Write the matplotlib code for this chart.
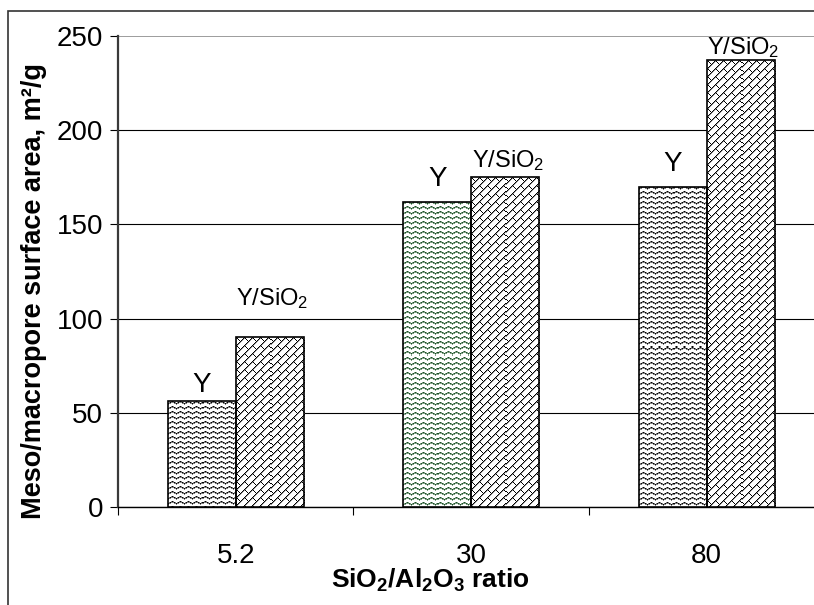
import numpy as np
import matplotlib
matplotlib.use("Agg")
import matplotlib.pyplot as plt
from matplotlib.patches import Rectangle

# Data
categories = ["5.2", "30", "80"]
series_labels = ["Y", "Y/SiO$_2$"]
area_y = [56, 162, 170]
area_y_sio2 = [90, 175, 237]
yticks = [0, 50, 100, 150, 200, 250]

plt.rcParams["font.family"] = ["Liberation Sans", "DejaVu Sans"]
plt.rcParams["mathtext.fontset"] = "custom"
plt.rcParams["mathtext.rm"] = "Liberation Sans"
plt.rcParams["mathtext.it"] = "Liberation Sans:italic"
plt.rcParams["mathtext.bf"] = "Liberation Sans:bold"

W, H = 814, 605
fig = plt.figure(figsize=(W / 100, H / 100), dpi=100)
ax = fig.add_axes([118 / W, 98 / H, 706.5 / W, 471 / H])

x = np.arange(len(categories))
bw = 0.289
ax.set_xlim(-0.5, len(categories) - 0.5)
ax.set_ylim(0, 250)

bars_a = ax.bar(x - bw / 2, area_y, bw, facecolor="none", edgecolor="black",
                linewidth=1.2, zorder=4)
bars_b = ax.bar(x + bw / 2, area_y_sio2, bw, facecolor="none", edgecolor="black",
                linewidth=1.2, zorder=4)


def zigzag(h, w, dark, mid):
    img = np.ones((h, w, 3))
    r = np.arange(h)[:, None]
    c = np.arange(w)[None, :]
    t = (np.abs((c % 8) - 4) // 2)
    ph = (r - t) % 5
    img[ph == 0] = mid
    img[(ph == 0) & (c % 2 == 0)] = dark
    img[ph == 1] = mid
    return img


def brick(h, w):
    img = np.ones((h, w, 3))
    r = np.arange(h)[:, None]
    c = np.arange(w)[None, :]
    u = c + r
    v = c - r
    line = (u % 8 == 0)
    soft = (u % 8 == 1)
    band = u // 8
    stub = ((v - 8 * (band % 2)) % 16 == 0)
    img[np.broadcast_to(soft, img.shape[:2])] = (0.6, 0.6, 0.6)
    img[np.broadcast_to(line | stub, img.shape[:2])] = (0.0, 0.0, 0.0)
    return img


def fill_bar(patch, tex_fn):
    x0, y0 = patch.get_x(), patch.get_y()
    x1, y1 = x0 + patch.get_width(), y0 + patch.get_height()
    (px0, py0), (px1, py1) = ax.transData.transform([(x0, y0), (x1, y1)])
    h = max(int(round(abs(py1 - py0))), 1)
    w = max(int(round(abs(px1 - px0))), 1)
    im = ax.imshow(tex_fn(h, w), extent=(x0, x1, y0, y1), aspect="auto",
                   interpolation="nearest", zorder=3)
    im.set_clip_path(patch)


for i, p in enumerate(bars_a):
    if i == 1:
        fill_bar(p, lambda h, w: zigzag(h, w, (0.10, 0.30, 0.15), (0.50, 0.63, 0.52)))
    else:
        fill_bar(p, lambda h, w: zigzag(h, w, (0.0, 0.0, 0.0), (0.50, 0.50, 0.50)))
for p in bars_b:
    fill_bar(p, brick)

ax.set_xlim(-0.5, len(categories) - 0.5)
ax.set_ylim(0, 250)

# Series labels above the bars (offsets in pixels)
gap_a = [9, 16, 16]
gap_b = [32, 10, 6]
for i in range(len(categories)):
    ax.annotate(series_labels[0], xy=(x[i] - bw / 2, area_y[i]),
                xytext=(0, gap_a[i] * 0.72), textcoords="offset points",
                ha="center", va="baseline", fontsize=20, zorder=5)
    ax.annotate(series_labels[1], xy=(x[i] + bw / 2, area_y_sio2[i]),
                xytext=(2, gap_b[i] * 0.72), textcoords="offset points",
                ha="center", va="baseline", fontsize=17, zorder=5)

# Axes styling
ax.set_yticks(yticks)
ax.set_axisbelow(True)
ax.yaxis.grid(True, color="black", linewidth=0.8)
for val, gl in zip(yticks, ax.yaxis.get_gridlines()):
    if val == 250:
        gl.set_color("#8c8c8c")
        gl.set_linewidth(1.2)

ax.spines["top"].set_visible(False)
ax.spines["right"].set_visible(False)
ax.spines["left"].set_color("#3a3a3a")
ax.spines["left"].set_linewidth(1.6)
ax.spines["bottom"].set_color("black")
ax.spines["bottom"].set_linewidth(1.0)

ax.set_xticks(x, categories)
ax.set_xticks(np.arange(-0.5, len(categories)), minor=True)
ax.tick_params(axis="x", which="major", length=0, pad=26, labelsize=20)
ax.tick_params(axis="x", which="minor", length=5.8, width=0.8, direction="out")
ax.tick_params(axis="y", length=5.8, width=0.8, pad=5.0, labelsize=20)

ax.set_ylabel("Meso/macropore surface area, m²/g", fontsize=19.5,
              fontweight="bold", va="center")
ax.yaxis.set_label_coords(-0.1196, (507 - 291) / 471)
ax.set_xlabel(r"SiO$_\mathbf{2}$/Al$_\mathbf{2}$O$_\mathbf{3}$ ratio",
              fontsize=19, fontweight="bold", va="top")
ax.xaxis.set_label_coords((430 - 118) / 706.5, (507 - 567) / 471)

# Figure frame
fig.add_artist(Rectangle((8 / W, -0.1), 1.2, 1 - 11 / H + 0.1,
                         transform=fig.transFigure, fill=False,
                         edgecolor="#333333", linewidth=1.2))

fig.savefig("out.png", dpi=100)
